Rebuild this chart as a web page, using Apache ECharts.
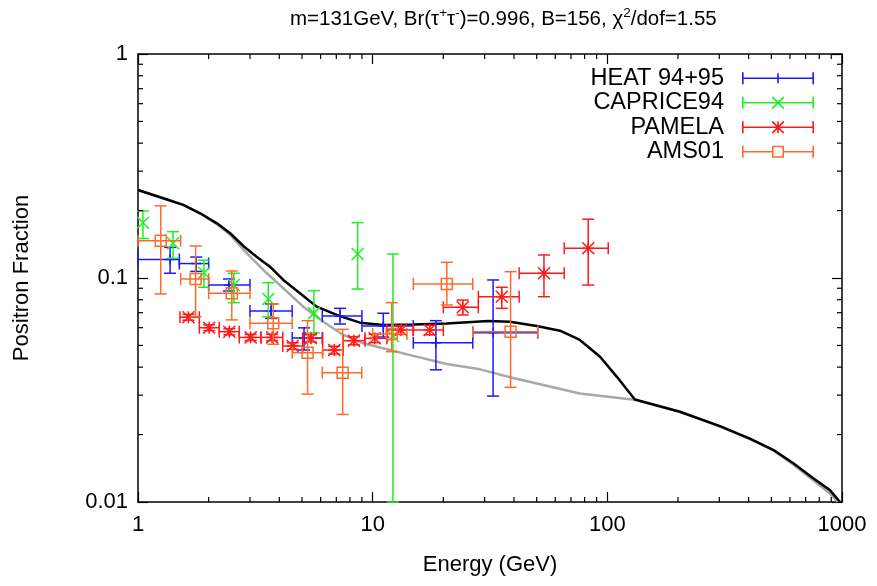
<!DOCTYPE html>
<html><head><meta charset="utf-8">
<script src="https://cdn.jsdelivr.net/npm/echarts@6/dist/echarts.min.js"></script>
<style>html,body{margin:0;padding:0;background:#fff}#c{width:877px;height:586px}</style>
</head><body><div id="c"></div>
<script>
const FONT = '"Liberation Sans", Arial, Helvetica, sans-serif';

// ---- axis tick values ----
const xMinorTicks = [2,3,4,5,6,7,8,9,20,30,40,50,60,70,80,90,200,300,400,500,600,700,800,900];
const yMinorTicks = [0.02,0.03,0.04,0.05,0.06,0.07,0.08,0.09,0.2,0.3,0.4,0.5,0.6,0.7,0.8,0.9];

// ---- model curves ----
const blackE = [1.0,1.28,1.56,1.84,2.17,2.47,2.81,3.2,3.65,4.16,4.9,5.77,7.03,8.83,11.1,14.9,20.7,31.1,38.5,50.0,62.8,76.4,93.1,109.6,131,204,302,405,509,620,754,888,979];
const blackV = [0.247,0.227,0.212,0.1945,0.1754,0.1584,0.139,0.1245,0.1123,0.098,0.0855,0.0745,0.0684,0.0632,0.0617,0.062,0.0626,0.0643,0.0638,0.061,0.0582,0.0529,0.0445,0.0363,0.0287,0.0253,0.0218,0.0192,0.0171,0.0149,0.01276,0.0113,0.01002];
const greyE = [1.0,1.28,1.56,1.84,2.17,2.47,2.81,3.42,4.16,5.06,6.16,7.5,9.12,11.85,14.9,20.7,28.7,39.7,76.4,133,204,302,405,509,620,754,888,960];
const greyV = [0.247,0.227,0.212,0.194,0.174,0.156,0.134,0.1086,0.090,0.0745,0.0638,0.0557,0.0511,0.0477,0.0449,0.0413,0.0391,0.0358,0.0305,0.0285,0.0252,0.0217,0.0191,0.0170,0.0147,0.0125,0.0109,0.0100];

// ---- HEAT 94+95 ----
const heatE   = [1.37,1.77,2.44,3.69,5.1,7.26,11.1,18.6,32.6];
const heatElo = [1.0,1.5,2.0,3.0,4.54,6.1,9.0,14.9,26.7];
const heatEhi = [1.5,2.0,3.0,4.54,6.1,9.0,14.9,26.7,50.5];
const heatV   = [0.121,0.116,0.093,0.0713,0.054,0.0676,0.061,0.0514,0.057];
const heatLo  = [0.105,0.107,0.0875,0.066,0.0477,0.0623,0.0545,0.0389,0.0297];
const heatHi  = [0.137,0.124,0.099,0.0766,0.0599,0.0732,0.0696,0.0645,0.098];

// ---- CAPRICE94 ----
const capE  = [1.05,1.41,1.91,2.56,3.59,5.62,8.63,12.2];
const capV  = [0.1766,0.143,0.1056,0.093,0.0806,0.0697,0.128,0.0551];
const capLo = [0.150,0.1225,0.0909,0.0776,0.0672,0.0568,0.0893,0.01];
const capHi = [0.199,0.161,0.120,0.105,0.0953,0.0878,0.1766,0.128];

// ---- PAMELA ----
const pamE   = [1.64,2.01,2.45,3.02,3.73,4.56,5.46,6.86,8.32,10.2,13.2,17.5,24.2,35.5,53.7,82.9];
const pamElo = [1.51,1.825,2.22,2.70,3.34,4.14,5.03,6.12,7.49,9.27,11.5,14.9,20.0,28.2,42.1,65.5];
const pamEhi = [1.825,2.22,2.70,3.34,4.14,5.03,6.12,7.49,9.27,11.5,14.9,20.0,28.2,42.1,65.5,100.9];
const pamV   = [0.0668,0.060,0.0576,0.0543,0.0543,0.0497,0.0538,0.0477,0.0525,0.0538,0.0586,0.0586,0.074,0.0825,0.105,0.1358];
const pamLo  = [0.0648,0.0582,0.0558,0.0526,0.0525,0.0480,0.0518,0.0458,0.0503,0.0515,0.0560,0.0558,0.0684,0.0732,0.0825,0.093];
const pamHi  = [0.0688,0.0618,0.0594,0.0560,0.0561,0.0514,0.0558,0.0496,0.0547,0.0561,0.0612,0.0614,0.0797,0.0909,0.1267,0.183];

// ---- AMS01 ----
const amsE   = [1.25,1.76,2.51,3.77,5.28,7.45,12.05,20.7,38.7];
const amsElo = [1.0,1.52,2.0,3.0,4.54,6.1,10.0,14.9,26.7];
const amsEhi = [1.52,2.0,3.0,4.54,6.12,8.98,14.0,26.7,50.5];
const amsV   = [0.1467,0.099,0.0855,0.0628,0.0464,0.0378,0.0562,0.094,0.0576];
const amsLo  = [0.0849,0.0672,0.065,0.0506,0.0303,0.0246,0.0469,0.0758,0.0325];
const amsHi  = [0.21,0.139,0.1075,0.0766,0.0645,0.059,0.0776,0.1175,0.1067];

const C_HEAT = '#1a1aff', C_CAP = '#1ef01e', C_PAM = '#ff1a1a', C_AMS = '#ff6a2a';

function rows(E, V, lo, hi, Elo, Ehi) {
  return E.map((e, i) => [e, V[i], Elo ? Elo[i] : NaN, Ehi ? Ehi[i] : NaN, lo[i], hi[i]]);
}

function makeRender(kind, color) {
  return function (params, api) {
    const x = api.value(0), y = api.value(1);
    const xl = api.value(2), xh = api.value(3), yl = api.value(4), yh = api.value(5);
    const c = api.coord([x, y]);
    const ch = [];
    const st = () => ({ stroke: color, lineWidth: 1.5, fill: null });
    const L = (x1, y1, x2, y2) => ch.push({ type: 'line', shape: { x1, y1, x2, y2 }, style: st() });
    const cap = 6;
    if (!isNaN(yl) && !isNaN(yh)) {
      const a = api.coord([x, yl]), b = api.coord([x, yh]);
      L(c[0], a[1], c[0], b[1]);
      L(c[0] - cap, a[1], c[0] + cap, a[1]);
      L(c[0] - cap, b[1], c[0] + cap, b[1]);
    }
    if (!isNaN(xl) && !isNaN(xh)) {
      const a = api.coord([xl, y]), b = api.coord([xh, y]);
      L(a[0], c[1], b[0], c[1]);
      L(a[0], c[1] - cap, a[0], c[1] + cap);
      L(b[0], c[1] - cap, b[0], c[1] + cap);
    }
    const m = 6;
    if (kind === 'plus') {
      L(c[0] - 5, c[1], c[0] + 5, c[1]);
      L(c[0], c[1] - 5, c[0], c[1] + 5);
    } else if (kind === 'x') {
      L(c[0] - m, c[1] - m, c[0] + m, c[1] + m);
      L(c[0] - m, c[1] + m, c[0] + m, c[1] - m);
    } else if (kind === 'star') {
      L(c[0] - m, c[1] - m, c[0] + m, c[1] + m);
      L(c[0] - m, c[1] + m, c[0] + m, c[1] - m);
      L(c[0], c[1] - m, c[0], c[1] + m);
      L(c[0] - m, c[1], c[0] + m, c[1]);
    } else if (kind === 'square') {
      ch.push({ type: 'rect', shape: { x: c[0] - 5.5, y: c[1] - 5.5, width: 11, height: 11 }, style: st() });
    }
    return { type: 'group', children: ch };
  };
}

const BAR = 'M0 5.2H72V6.8H0Z M0 0H1.6V12H0Z M70.4 0H72V12H70.4Z';
const CAPS = 'M0 0H1.6V12H0Z M70.4 0H72V12H70.4Z';
const XS = 'M30 0L31.2 0L42 10.8L42 12L40.8 12L30 1.2Z M42 0L42 1.2L31.2 12L30 12L30 10.8L40.8 0Z';
const VL = 'M35.2 0H36.8V12H35.2Z';
const ICON_HEAT = 'path://' + BAR + ' M35.2 1H36.8V11H35.2Z';
const ICON_CAP = 'path://' + BAR + ' ' + XS;
const ICON_PAM = 'path://' + BAR + ' ' + XS + ' ' + VL;
const ICON_AMS = 'path://' + CAPS + ' M0 5.2H30V6.8H0Z M42 5.2H72V6.8H42Z M30 0H42V12H30Z M31.6 1.6V10.4H40.4V1.6Z';

function tickSeries(vals, isX) {
  return {
    type: 'custom', silent: true, clip: false, z: 5,
    data: vals.map(v => isX ? [v, 0.01] : [1, v]),
    renderItem: function (params, api) {
      const cs = params.coordSys;
      const s = () => ({ stroke: '#000', lineWidth: 1.2 });
      if (isX) {
        const px = api.coord([api.value(0), 0.01])[0];
        return { type: 'group', children: [
          { type: 'line', shape: { x1: px, y1: cs.y + cs.height, x2: px, y2: cs.y + cs.height - 5 }, style: s() },
          { type: 'line', shape: { x1: px, y1: cs.y, x2: px, y2: cs.y + 5 }, style: s() }
        ] };
      } else {
        const py = api.coord([1, api.value(1)])[1];
        return { type: 'group', children: [
          { type: 'line', shape: { x1: cs.x, y1: py, x2: cs.x + 5, y2: py }, style: s() },
          { type: 'line', shape: { x1: cs.x + cs.width, y1: py, x2: cs.x + cs.width - 5, y2: py }, style: s() }
        ] };
      }
    }
  };
}

const fmt = v => String(+Number(v).toPrecision(6));
const axisCommon = {
  type: 'log', logBase: 10,
  axisLine: { onZero: false, lineStyle: { color: '#000', width: 1.5 } },
  axisTick: { inside: true, length: 10, lineStyle: { color: '#000', width: 1.2 } },
  splitLine: { show: false }
};

const chart = echarts.init(document.getElementById('c'));
chart.setOption({
  animation: false,
  backgroundColor: '#fff',
  title: {
    text: 'm=131GeV, Br(τ{s|+}τ{s|-})=0.996, B=156, χ{s|2}/dof=1.55',
    left: 285, top: 1,
    textStyle: {
      fontFamily: FONT, fontSize: 20.5, fontWeight: 'normal', color: '#000', lineHeight: 26,
      rich: { s: { fontFamily: FONT, fontSize: 13.5, color: '#000', lineHeight: 16, verticalAlign: 'top' } }
    }
  },
  legend: {
    data: [
      { name: 'HEAT 94+95', icon: ICON_HEAT },
      { name: 'CAPRICE94', icon: ICON_CAP },
      { name: 'PAMELA', icon: ICON_PAM },
      { name: 'AMS01', icon: ICON_AMS }
    ],
    orient: 'vertical', right: 63, top: 66, align: 'right',
    itemWidth: 72, itemHeight: 12, itemGap: 0, padding: 0, selectedMode: false,
    itemStyle: { borderWidth: 0 },
    textStyle: { fontFamily: FONT, fontSize: 23.5, color: '#000', lineHeight: 24.5, padding: [0, 13, 0, 0] }
  },
  grid: { left: 138, right: 35, top: 54, bottom: 84, containLabel: false },
  xAxis: [
    Object.assign({}, axisCommon, {
      min: 1, max: 1000, position: 'bottom',
      axisLabel: { fontFamily: FONT, fontSize: 22, color: '#000', margin: 12, formatter: fmt },
      name: 'Energy (GeV)', nameLocation: 'middle', nameGap: 52,
      nameTextStyle: { fontFamily: FONT, fontSize: 22, color: '#000' }
    }),
    Object.assign({}, axisCommon, { min: 1, max: 1000, position: 'top', axisLabel: { show: false } })
  ],
  yAxis: [
    Object.assign({}, axisCommon, {
      min: 0.01, max: 1, position: 'left',
      axisLabel: { fontFamily: FONT, fontSize: 22, color: '#000', margin: 10, formatter: fmt },
      name: 'Positron Fraction', nameLocation: 'middle', nameGap: 105, nameRotate: 90,
      nameTextStyle: { fontFamily: FONT, fontSize: 22, color: '#000' }
    }),
    Object.assign({}, axisCommon, { min: 0.01, max: 1, position: 'right', axisLabel: { show: false } })
  ],
  series: [
    tickSeries(xMinorTicks, true),
    tickSeries(yMinorTicks, false),
    { name: 'background', type: 'line', showSymbol: false, silent: true, z: 1,
      data: greyE.map((e, i) => [e, greyV[i]]), lineStyle: { color: '#a8a8a8', width: 2.5 } },
    { name: 'total', type: 'line', showSymbol: false, silent: true, z: 2,
      data: blackE.map((e, i) => [e, blackV[i]]), lineStyle: { color: '#000', width: 2.5 } },
    { name: 'HEAT 94+95', type: 'custom', z: 3, itemStyle: { color: C_HEAT },
      data: rows(heatE, heatV, heatLo, heatHi, heatElo, heatEhi), renderItem: makeRender('plus', C_HEAT) },
    { name: 'CAPRICE94', type: 'custom', z: 3, itemStyle: { color: C_CAP },
      data: rows(capE, capV, capLo, capHi, null, null), renderItem: makeRender('x', C_CAP) },
    { name: 'PAMELA', type: 'custom', z: 3, itemStyle: { color: C_PAM },
      data: rows(pamE, pamV, pamLo, pamHi, pamElo, pamEhi), renderItem: makeRender('star', C_PAM) },
    { name: 'AMS01', type: 'custom', z: 3, itemStyle: { color: C_AMS },
      data: rows(amsE, amsV, amsLo, amsHi, amsElo, amsEhi), renderItem: makeRender('square', C_AMS) }
  ]
});
</script></body></html>
